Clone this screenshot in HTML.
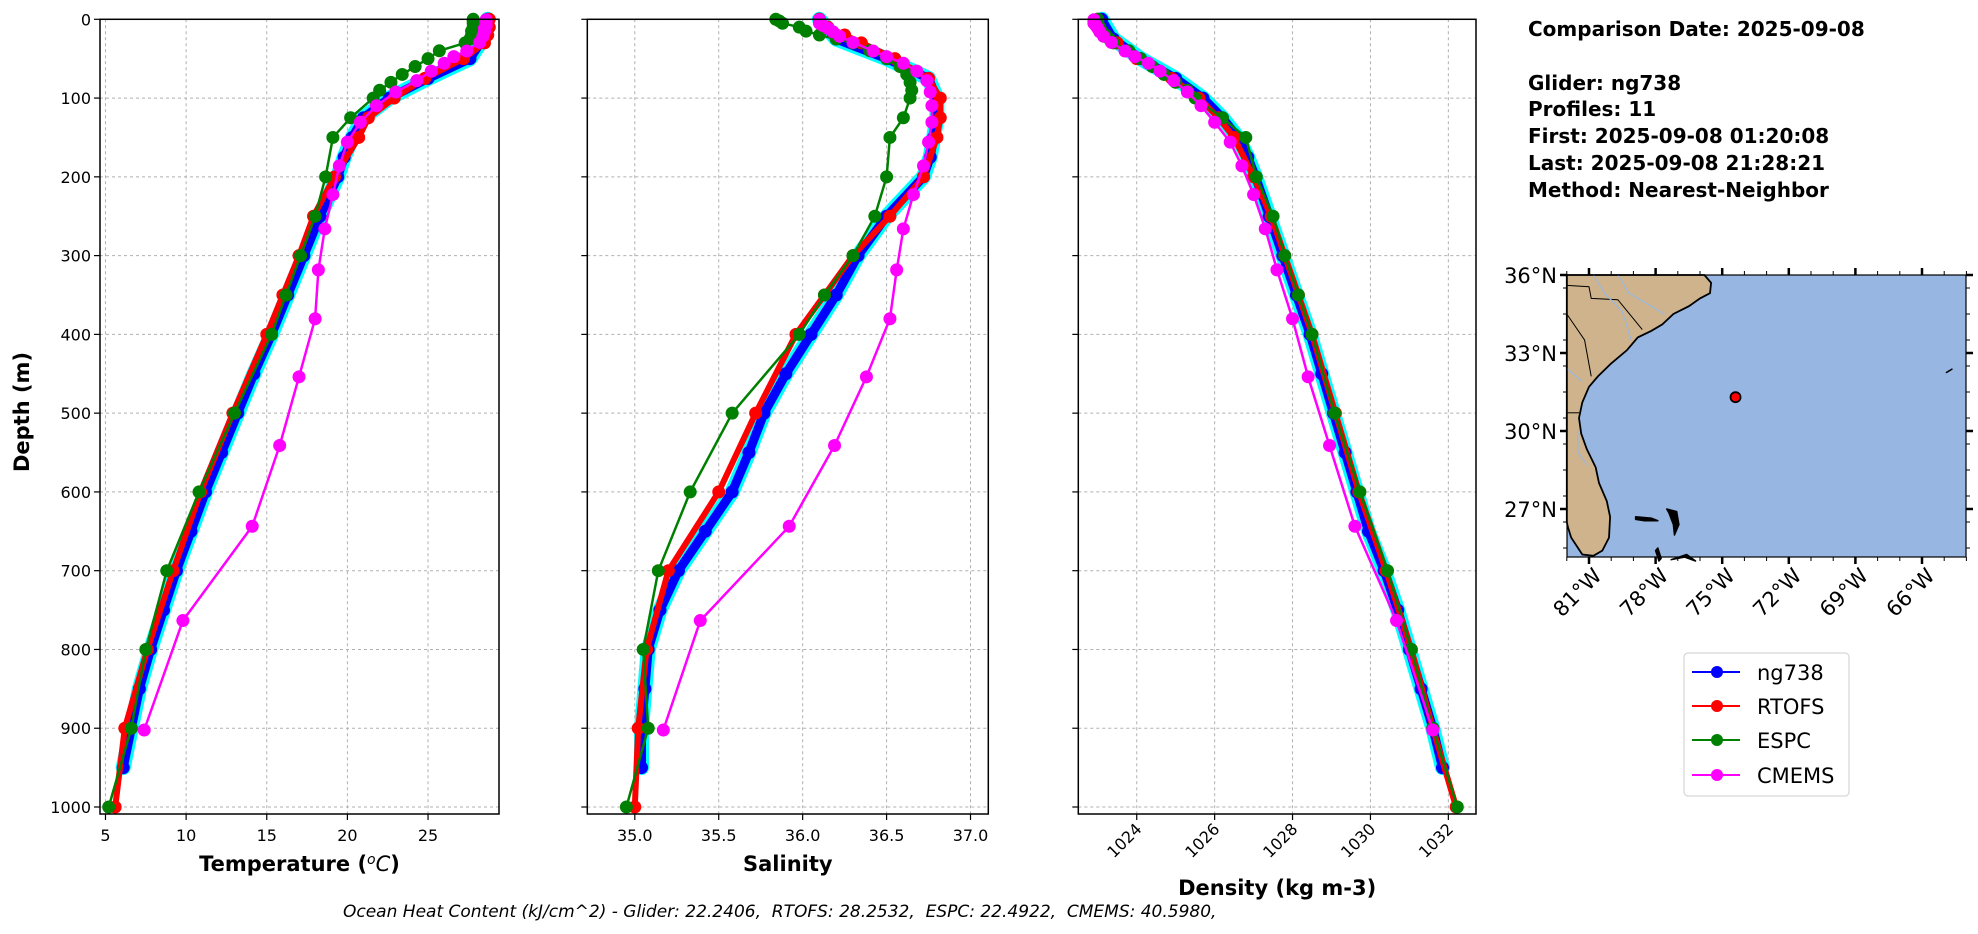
<!DOCTYPE html>
<html><head><meta charset="utf-8"><style>
body{margin:0;background:#fff;}
svg{display:block;font-family:"DejaVu Sans","Liberation Sans",sans-serif;}
</style></head><body>
<svg id="fig" width="1978" height="934" viewBox="0 0 1978 934" xmlns="http://www.w3.org/2000/svg">
<g id="panels"></g>
<g id="map"></g>
<g font-weight="bold" font-size="20" fill="#000">
<text x="1528" y="36">Comparison Date: 2025-09-08</text>
<text x="1528" y="90">Glider: ng738</text>
<text x="1528" y="116">Profiles: 11</text>
<text x="1528" y="143">First: 2025-09-08 01:20:08</text>
<text x="1528" y="170">Last: 2025-09-08 21:28:21</text>
<text x="1528" y="197">Method: Nearest-Neighbor</text>
</g>
<g>
<rect x="1684" y="653" width="165" height="143" rx="4" fill="#fff" stroke="#d6d6d6" stroke-width="1.2"/>
<g><line x1="1692" y1="672" x2="1740" y2="672" stroke="#0000ff" stroke-width="2"/><circle cx="1717" cy="672" r="6" fill="#0000ff"/><text x="1757" y="680" font-size="21">ng738</text></g>
<g><line x1="1692" y1="706" x2="1740" y2="706" stroke="#ff0000" stroke-width="2"/><circle cx="1717" cy="706" r="6" fill="#ff0000"/><text x="1757" y="714" font-size="21">RTOFS</text></g>
<g><line x1="1692" y1="740" x2="1740" y2="740" stroke="#008000" stroke-width="2"/><circle cx="1717" cy="740" r="6" fill="#008000"/><text x="1757" y="748" font-size="21">ESPC</text></g>
<g><line x1="1692" y1="775" x2="1740" y2="775" stroke="#ff00ff" stroke-width="2"/><circle cx="1717" cy="775" r="6" fill="#ff00ff"/><text x="1757" y="783" font-size="21">CMEMS</text></g>
</g>
<text x="343" y="917" font-size="17" font-style="italic" style="white-space:pre" xml:space="preserve">Ocean Heat Content (kJ/cm^2) - Glider: 22.2406,  RTOFS: 28.2532,  ESPC: 22.4922,  CMEMS: 40.5980,</text>
</svg>
<script>
// ---- data ----
const gliderDepth=[0,25,50,75,100,125,150,175,200,250,300,350,400,450,500,550,600,650,700,750,800,850,900,950];
const gliderTemp=[28.7,28.4,27.6,25.0,22.6,21.0,20.3,19.8,19.4,18.3,17.3,16.3,15.3,14.2,13.2,12.2,11.2,10.3,9.4,8.6,7.8,7.1,6.6,6.1];
const gliderSalt=[36.1,36.2,36.5,36.75,36.8,36.8,36.78,36.76,36.72,36.5,36.33,36.2,36.05,35.9,35.77,35.68,35.58,35.42,35.26,35.15,35.08,35.06,35.04,35.04];
const gliderDens=[1023.1,1023.4,1024.1,1025.0,1025.7,1026.2,1026.6,1026.85,1027.05,1027.4,1027.75,1028.1,1028.45,1028.75,1029.05,1029.35,1029.65,1029.95,1030.35,1030.7,1031.0,1031.3,1031.6,1031.85];
const rtofsDepth=[0,10,20,30,50,75,100,125,150,200,250,300,350,400,500,600,700,800,900,1000];
const rtofsTemp=[28.8,28.8,28.7,28.5,27.2,24.8,22.9,21.3,20.7,19.2,17.9,17.0,16.0,15.0,12.9,10.9,9.2,7.6,6.2,5.6];
const rtofsSalt=[36.1,36.15,36.25,36.35,36.55,36.75,36.82,36.82,36.8,36.72,36.52,36.3,36.13,35.96,35.72,35.5,35.2,35.07,35.02,35.0];
const rtofsDens=[1023.0,1023.05,1023.2,1023.5,1024.0,1024.9,1025.6,1026.1,1026.5,1027.0,1027.45,1027.8,1028.15,1028.5,1029.1,1029.7,1030.4,1031.05,1031.6,1032.2];
const espcDepth=[0,2,5,10,15,20,25,30,40,50,60,70,80,90,100,125,150,200,250,300,350,400,500,600,700,800,900,1000];
const espcTemp=[27.8,27.8,27.8,27.8,27.7,27.7,27.6,27.3,25.7,25.0,24.2,23.4,22.7,22.0,21.6,20.2,19.1,18.65,18.0,17.1,16.2,15.3,13.0,10.8,8.8,7.5,6.6,5.2];
const espcSalt=[35.84,35.86,35.88,35.98,36.02,36.1,36.2,36.3,36.4,36.5,36.58,36.62,36.64,36.65,36.64,36.6,36.52,36.5,36.43,36.3,36.13,35.98,35.58,35.33,35.14,35.05,35.08,34.95];
const espcDens=[1023.0,1023.0,1023.0,1023.05,1023.1,1023.2,1023.3,1023.4,1023.8,1024.1,1024.4,1024.7,1025.0,1025.3,1025.5,1026.2,1026.8,1027.07,1027.5,1027.8,1028.15,1028.5,1029.08,1029.73,1030.44,1031.05,1031.6,1032.23];
const cmemsDepth=[0.5,2.6,5,7.9,11.4,15.8,21.6,29.4,40.3,47.4,55.8,65.8,77.9,92.3,109.7,130.7,155.9,186.1,222.5,266.0,318.1,380.2,453.9,541.1,643.6,763.3,902.3];
const cmemsTemp=[28.6,28.6,28.6,28.6,28.5,28.5,28.4,28.2,27.4,26.6,26.0,25.2,24.3,23.0,21.8,20.8,20.0,19.5,19.1,18.6,18.2,18.0,17.0,15.8,14.1,9.8,7.4];
const cmemsSalt=[36.1,36.1,36.1,36.12,36.15,36.18,36.22,36.3,36.42,36.5,36.6,36.68,36.74,36.76,36.77,36.77,36.75,36.72,36.66,36.6,36.56,36.52,36.38,36.19,35.92,35.39,35.17];
const cmemsDens=[1022.9,1022.9,1022.9,1022.95,1023.0,1023.05,1023.15,1023.35,1023.7,1023.95,1024.3,1024.6,1024.95,1025.3,1025.65,1026.0,1026.4,1026.7,1027.0,1027.3,1027.6,1028.0,1028.4,1028.95,1029.6,1030.67,1031.6];
const depthTicks=[0,100,200,300,400,500,600,700,800,900,1000];
const tempTicks=[5,10,15,20,25];
const saltTicks=[35.0,35.5,36.0,36.5,37.0];
const densTicks=[1024,1026,1028,1030,1032];
const latTicks=[36,33,30,27];
const lonTicks=[-81,-78,-75,-72,-69,-66];
const gliderLoc=[-74.4,31.3];

const NS="http://www.w3.org/2000/svg";
function mk(tag,attrs,parent){const e=document.createElementNS(NS,tag);for(const k in attrs)e.setAttribute(k,attrs[k]);parent.appendChild(e);return e;}
const TOP=19.3,BOT=814;
const yD=d=>TOP+d*(807-TOP)/1000;
const panels=[
 {name:'temperature',x0:100,x1:499,v0:4.66,v1:29.4,ticks:tempTicks,fmt:v=>String(v),label:'Temperature (°C)',rot:false,
  g:gliderTemp,r:rtofsTemp,e:espcTemp,c:cmemsTemp},
 {name:'salinity',x0:587.3,x1:988.3,v0:34.717,v1:37.106,ticks:saltTicks,fmt:v=>v.toFixed(1),label:'Salinity',rot:false,
  g:gliderSalt,r:rtofsSalt,e:espcSalt,c:cmemsSalt},
 {name:'density',x0:1078.3,x1:1476,v0:1022.5,v1:1032.71,ticks:densTicks,fmt:v=>String(v),label:'Density (kg m-3)',rot:true,
  g:gliderDens,r:rtofsDens,e:espcDens,c:cmemsDens}
];
const root=document.getElementById('panels');
panels.forEach((p,pi)=>{
 const g=mk('g',{},root);
 
 
 const xs=v=>p.x0+(v-p.v0)*(p.x1-p.x0)/(p.v1-p.v0);
 p.ticks.forEach(t=>{const l=mk('line',{x1:xs(t),x2:xs(t),y1:TOP,y2:BOT,stroke:'#b0b0b0','stroke-width':1,'stroke-dasharray':'3,3'},g);
   });
 depthTicks.forEach(t=>{const l=mk('line',{x1:p.x0,x2:p.x1,y1:yD(t),y2:yD(t),stroke:'#b0b0b0','stroke-width':1,'stroke-dasharray':'3,3'},g);
   });
 function series(depth,vals,color,lw,r,nm){
   const sg=mk('g',{},g);
   
   
   const pts=depth.map((d,i)=>xs(vals[i]).toFixed(1)+','+yD(d).toFixed(1)).join(' ');
   mk('polyline',{points:pts,fill:'none',stroke:color,'stroke-width':lw,'stroke-linejoin':'round'},sg);
   depth.forEach((d,i)=>{const c=mk('circle',{cx:xs(vals[i]),cy:yD(d),r:r,fill:color},sg);
     });
 }
 const env=mk('polyline',{points:gliderDepth.map((d,i)=>xs(p.g[i]).toFixed(1)+','+yD(d).toFixed(1)).join(' '),fill:'none',stroke:'#00ffff','stroke-width':15,'stroke-linejoin':'round','stroke-linecap':'round'},g);
 
 series(gliderDepth,p.g,'#0000ff',9,6.5,'glider');
 series(rtofsDepth,p.r,'#ff0000',6,6.5,'rtofs');
 series(espcDepth,p.e,'#008000',2.5,6.5,'espc');
 series(cmemsDepth,p.c,'#ff00ff',2.5,6.5,'cmems');
 const fr=mk('rect',{x:p.x0,y:TOP,width:p.x1-p.x0,height:BOT-TOP,fill:'none',stroke:'#000','stroke-width':1.5},g);
 
 p.ticks.forEach(t=>{
   mk('line',{x1:xs(t),x2:xs(t),y1:BOT,y2:BOT+6,stroke:'#000','stroke-width':1.2},g);
   let tx;
   if(p.rot){tx=mk('text',{x:xs(t)+6,y:BOT+16,'font-size':16,'text-anchor':'end',transform:`rotate(-45 ${xs(t)+6} ${BOT+16})`},g);}
   else{tx=mk('text',{x:xs(t),y:BOT+27,'font-size':16,'text-anchor':'middle'},g);}
   tx.textContent=p.fmt(t);
   
 });
 depthTicks.forEach(t=>{
   mk('line',{x1:p.x0-6,x2:p.x0,y1:yD(t),y2:yD(t),stroke:'#000','stroke-width':1.2},g);
   if(pi===0){const tx=mk('text',{x:p.x0-9,y:yD(t)+6,'font-size':16,'text-anchor':'end'},g);tx.textContent=t;
     }
 });
 const lab=mk('text',{x:(p.x0+p.x1)/2,y:p.rot?895:871,'font-size':21,'font-weight':'bold','text-anchor':'middle'},g);
 
 if(pi===0){lab.innerHTML='Temperature (<tspan font-style="italic" font-weight="normal" dy="-7" font-size="14">o</tspan><tspan font-style="italic" font-weight="normal" dy="7">C</tspan>)';}
 else lab.textContent=p.label;
});
const yl=mk('text',{x:29,y:412,'font-size':21,'font-weight':'bold','text-anchor':'middle',transform:'rotate(-90 29 412)'},root);
yl.textContent='Depth (m)';


// ---- map ----
const M=document.getElementById('map');
const MX0=1567,MX1=1966,MY0=275,MY1=557;
const lx=lon=>1589+(lon+81)*22.2, ly=lat=>275+(36-lat)*26;
mk('rect',{x:MX0,y:MY0,width:MX1-MX0,height:MY1-MY0,fill:'#97b6e1'},M);
const coast=[[-82,36],[-75.8,36],[-75.5,35.7],[-75.55,35.3],[-76.0,35.1],[-76.5,34.8],[-77.2,34.5],[-77.7,34.1],[-78.2,33.85],[-78.8,33.6],[-79.3,33.1],[-80.0,32.6],[-80.6,32.1],[-81.0,31.7],[-81.3,31.1],[-81.45,30.5],[-81.35,29.9],[-81.1,29.3],[-80.7,28.6],[-80.55,28.0],[-80.2,27.3],[-80.05,26.7],[-80.1,25.9],[-80.4,25.4],[-80.8,25.2],[-81.3,25.25],[-81.8,25.9],[-81.95,26.3],[-82,26.5]];
const land=mk('polygon',{points:coast.map(c=>lx(c[0]).toFixed(1)+','+ly(c[1]).toFixed(1)).join(' '),fill:'#cfb38c',stroke:'#000','stroke-width':1.8},M);

const borders=[[[-82,35.6],[-81,35.55],[-80.9,35.1],[-79.7,35.05],[-78.6,33.9]],[[-82,34.5],[-81.2,33.5],[-80.9,32.1]],[[-82,30.7],[-81.45,30.7]]];
borders.forEach(b=>mk('polyline',{points:b.map(c=>lx(c[0])+','+ly(c[1])).join(' '),fill:'none',stroke:'#000','stroke-width':1},M));
const rivers=[[[-80.8,36],[-80.3,35.3],[-79.5,34.6],[-79.1,33.5]],[[-79.7,36],[-79.2,35.3],[-77.6,34.5]],[[-82,32.4],[-81.3,31.9]],[[-81.5,30.0],[-81.5,29.2],[-81.1,28.7]]];
rivers.forEach(b=>mk('polyline',{points:b.map(c=>lx(c[0])+','+ly(c[1])).join(' '),fill:'none',stroke:'#9ab8e0','stroke-width':1.2},M));
const islands=[[[-78.9,26.7],[-78.2,26.65],[-77.9,26.55],[-78.5,26.55],[-78.9,26.6]],[[-77.5,27.0],[-77.05,26.9],[-76.95,26.4],[-77.15,26.0],[-77.2,26.4],[-77.4,26.85]],[[-77.9,25.5],[-77.75,25.1],[-77.85,25.0],[-78.0,25.4]],[[-77.3,25.05],[-76.6,25.25],[-76.2,25.0],[-76.7,25.15]],[[-64.9,32.25],[-64.65,32.38],[-64.8,32.3]]];
islands.forEach(b=>mk('polygon',{points:b.map(c=>lx(c[0])+','+ly(c[1])).join(' '),fill:'#000',stroke:'#000','stroke-width':1.5,'stroke-linejoin':'round'},M));
const gdot=mk('circle',{cx:lx(gliderLoc[0]),cy:ly(gliderLoc[1]),r:5,fill:'#ff0000',stroke:'#000','stroke-width':1.8},M);

mk('rect',{x:MX0,y:MY0,width:MX1-MX0,height:MY1-MY0,fill:'none',stroke:'#000','stroke-width':1.2},M);
latTicks.forEach(t=>{
  mk('line',{x1:MX0-7,x2:MX0,y1:ly(t),y2:ly(t),stroke:'#000','stroke-width':2.5},M);
  mk('line',{x1:MX1,x2:MX1+7,y1:ly(t),y2:ly(t),stroke:'#000','stroke-width':2.5},M);
  const tx=mk('text',{x:MX0-10,y:ly(t)+8,'font-size':21,'text-anchor':'end'},M);tx.textContent=t+'°N';
  
});
for(let la=25.5;la<36;la+=1){mk('line',{x1:MX0-4,x2:MX0,y1:ly(la),y2:ly(la),stroke:'#000','stroke-width':1},M);mk('line',{x1:MX1,x2:MX1+4,y1:ly(la),y2:ly(la),stroke:'#000','stroke-width':1},M);}
for(let lo=-82;lo<=-64;lo+=1){mk('line',{x1:lx(lo),x2:lx(lo),y1:MY1,y2:MY1+4,stroke:'#000','stroke-width':1},M);mk('line',{x1:lx(lo),x2:lx(lo),y1:MY0-4,y2:MY0,stroke:'#000','stroke-width':1},M);}
lonTicks.forEach(t=>{
  mk('line',{x1:lx(t),x2:lx(t),y1:MY1,y2:MY1+7,stroke:'#000','stroke-width':2.5},M);
  mk('line',{x1:lx(t),x2:lx(t),y1:MY0-7,y2:MY0,stroke:'#000','stroke-width':2.5},M);
  const x=lx(t)+14,y=MY1+20;
  const tx=mk('text',{x:x,y:y,'font-size':21,'text-anchor':'end',transform:`rotate(-45 ${x} ${y})`},M);tx.textContent=(-t)+'°W';
  
});
</script>
</body></html>
